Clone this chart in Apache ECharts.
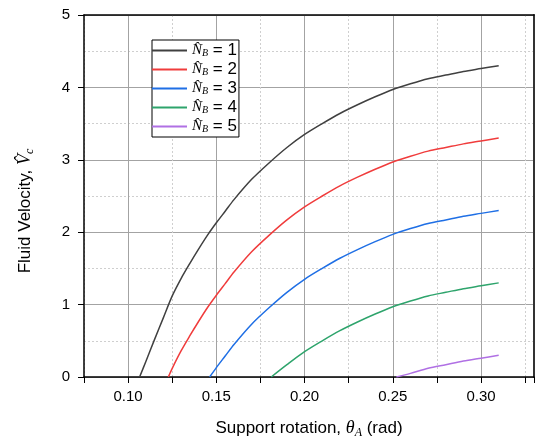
<!DOCTYPE html>
<html>
<head>
<meta charset="utf-8">
<script src="https://cdn.jsdelivr.net/npm/echarts@6/dist/echarts.min.js"></script>
<style>
html, body { margin: 0; padding: 0; background: #fff; }
#chart { width: 537px; height: 439px; }
</style>
</head>
<body>
<div id="chart"></div>
<script>
// support rotation (rad) and fluid velocity
const theta1 = [0.1065, 0.11, 0.115, 0.12, 0.125, 0.13, 0.135, 0.14, 0.145, 0.15, 0.155, 0.16, 0.17, 0.18, 0.19, 0.20, 0.21, 0.22, 0.23, 0.24, 0.25, 0.26, 0.27, 0.28, 0.29, 0.30, 0.31];
const vel1 = [0, 0.21, 0.52, 0.82, 1.12, 1.36, 1.57, 1.77, 1.96, 2.13, 2.29, 2.45, 2.73, 2.96, 3.17, 3.35, 3.50, 3.64, 3.76, 3.87, 3.97, 4.05, 4.12, 4.17, 4.22, 4.26, 4.30];

const theta2 = [0.1228, 0.125, 0.13, 0.135, 0.14, 0.145, 0.15, 0.155, 0.16, 0.17, 0.18, 0.19, 0.20, 0.21, 0.22, 0.23, 0.24, 0.25, 0.26, 0.27, 0.28, 0.29, 0.30, 0.31];
const vel2 = [0, 0.12, 0.36, 0.57, 0.77, 0.96, 1.13, 1.29, 1.45, 1.73, 1.96, 2.17, 2.35, 2.50, 2.64, 2.76, 2.87, 2.97, 3.05, 3.12, 3.17, 3.22, 3.26, 3.30];

const theta3 = [0.1462, 0.15, 0.155, 0.16, 0.17, 0.18, 0.19, 0.20, 0.21, 0.22, 0.23, 0.24, 0.25, 0.26, 0.27, 0.28, 0.29, 0.30, 0.31];
const vel3 = [0, 0.13, 0.29, 0.45, 0.73, 0.96, 1.17, 1.35, 1.50, 1.64, 1.76, 1.87, 1.97, 2.05, 2.12, 2.17, 2.22, 2.26, 2.30];

const theta4 = [0.1811, 0.19, 0.20, 0.21, 0.22, 0.23, 0.24, 0.25, 0.26, 0.27, 0.28, 0.29, 0.30, 0.31];
const vel4 = [0, 0.17, 0.35, 0.50, 0.64, 0.76, 0.87, 0.97, 1.05, 1.12, 1.17, 1.22, 1.26, 1.30];

const theta5 = [0.252, 0.26, 0.27, 0.28, 0.29, 0.30, 0.31];
const vel5 = [0, 0.05, 0.12, 0.17, 0.22, 0.26, 0.30];

const nbLabels = ['1', '2', '3', '4', '5'];
const colors = ['#404040', '#f03c3c', '#1f6fe5', '#2ea46c', '#b070e4'];

const thetas = [theta1, theta2, theta3, theta4, theta5];
const vels = [vel1, vel2, vel3, vel4, vel5];

const font = 'Liberation Sans';
const mathRich = {
    t: { fontFamily: font, fontSize: 17, color: '#000' },
    m: { fontFamily: 'Liberation Serif', fontStyle: 'italic', fontSize: 18, color: '#000' },
    s: { fontFamily: 'Liberation Serif', fontStyle: 'italic', fontSize: 12, color: '#000', padding: [9, 0, 0, 0] },
    g: { width: 30 }
};

var series = nbLabels.map(function (nb, i) {
    return {
        name: nb,
        type: 'line',
        showSymbol: false,
        symbol: 'none',
        smooth: 0.3,
        color: colors[i],
        lineStyle: { width: 1.5, color: colors[i] },
        data: thetas[i].map(function (x, j) { return [x, vels[i][j]]; })
    };
});

var gridMajor = '#a3a3a3';
var gridMinor = '#cfcfcf';

var option = {
    animation: false,
    backgroundColor: '#fff',
    grid: { left: 84, right: 3, top: 15, bottom: 62, outerBoundsMode: 'none' },
    legend: {
        left: 152,
        top: 40,
        orient: 'vertical',
        icon: 'rect',
        itemWidth: 35,
        itemHeight: 2,
        itemGap: 2,
        padding: [2, 2, 2, 0],
        borderColor: '#000',
        borderWidth: 1,
        backgroundColor: '#fff',
        formatter: function (name) {
            return '{n|N\u0302}{s|B}{t| = ' + name + '}';
        },
        textStyle: {
            rich: {
                n: { fontFamily: 'Liberation Serif', fontStyle: 'italic', fontSize: 15, color: '#000' },
                s: { fontFamily: 'Liberation Serif', fontStyle: 'italic', fontSize: 10, color: '#000', padding: [6, 0, 0, 0] },
                t: { fontFamily: font, fontSize: 17, color: '#000' }
            }
        },
        data: nbLabels
    },
    xAxis: [{
        type: 'value',
        position: 'bottom',
        min: 0.075,
        max: 0.33,
        interval: 0.025,
        name: '{t|Support rotation, }{m|θ}{s|A}{t| (rad)}',
        nameLocation: 'middle',
        nameGap: 41,
        nameTextStyle: { rich: mathRich },
        axisLine: { show: true, onZero: false, lineStyle: { color: '#000', width: 1.5 } },
        axisTick: { show: true, length: 6, lineStyle: { color: '#000' } },
        axisLabel: {
            margin: 12,
            fontFamily: font,
            fontSize: 15,
            color: '#000',
            formatter: function (v) {
                var k = v * 20;
                if (Math.abs(k - Math.round(k)) < 1e-6 && v < 0.329) return v.toFixed(2);
                return '';
            }
        },
        splitLine: { show: true, lineStyle: { color: gridMinor, type: [2, 2], width: 1 } }
    }, {
        type: 'value',
        position: 'top',
        min: 0.075,
        max: 0.33,
        interval: 0.025,
        axisLine: { show: true, onZero: false, lineStyle: { color: '#000', width: 1.5 } },
        axisTick: { show: false },
        axisLabel: { show: false },
        splitLine: { show: true, lineStyle: { color: ['rgba(0,0,0,0)', gridMajor], width: 1 } }
    }],
    yAxis: [{
        type: 'value',
        position: 'left',
        min: 0,
        max: 5,
        interval: 1,
        name: '{t|Fluid Velocity, }{m|V\u0302}{s|c}{g|}',
        nameLocation: 'middle',
        nameGap: 48,
        nameTextStyle: { rich: mathRich },
        axisLine: { show: true, onZero: false, lineStyle: { color: '#000', width: 1.5 } },
        axisTick: { show: true, length: 6, lineStyle: { color: '#000' } },
        axisLabel: { margin: 14, fontFamily: font, fontSize: 15, color: '#000' },
        splitLine: { show: true, lineStyle: { color: gridMajor, width: 1 } },
        minorTick: { show: false, splitNumber: 2 },
        minorSplitLine: { show: true, lineStyle: { color: gridMinor, type: [2, 2], width: 1 } }
    }, {
        type: 'value',
        position: 'right',
        min: 0,
        max: 5,
        interval: 1,
        axisLine: { show: true, onZero: false, lineStyle: { color: '#333', width: 2 } },
        axisTick: { show: false },
        axisLabel: { show: false },
        splitLine: { show: false }
    }],
    series: series
};

var myChart = echarts.init(document.getElementById('chart'));
myChart.setOption(option);
</script>
</body>
</html>
